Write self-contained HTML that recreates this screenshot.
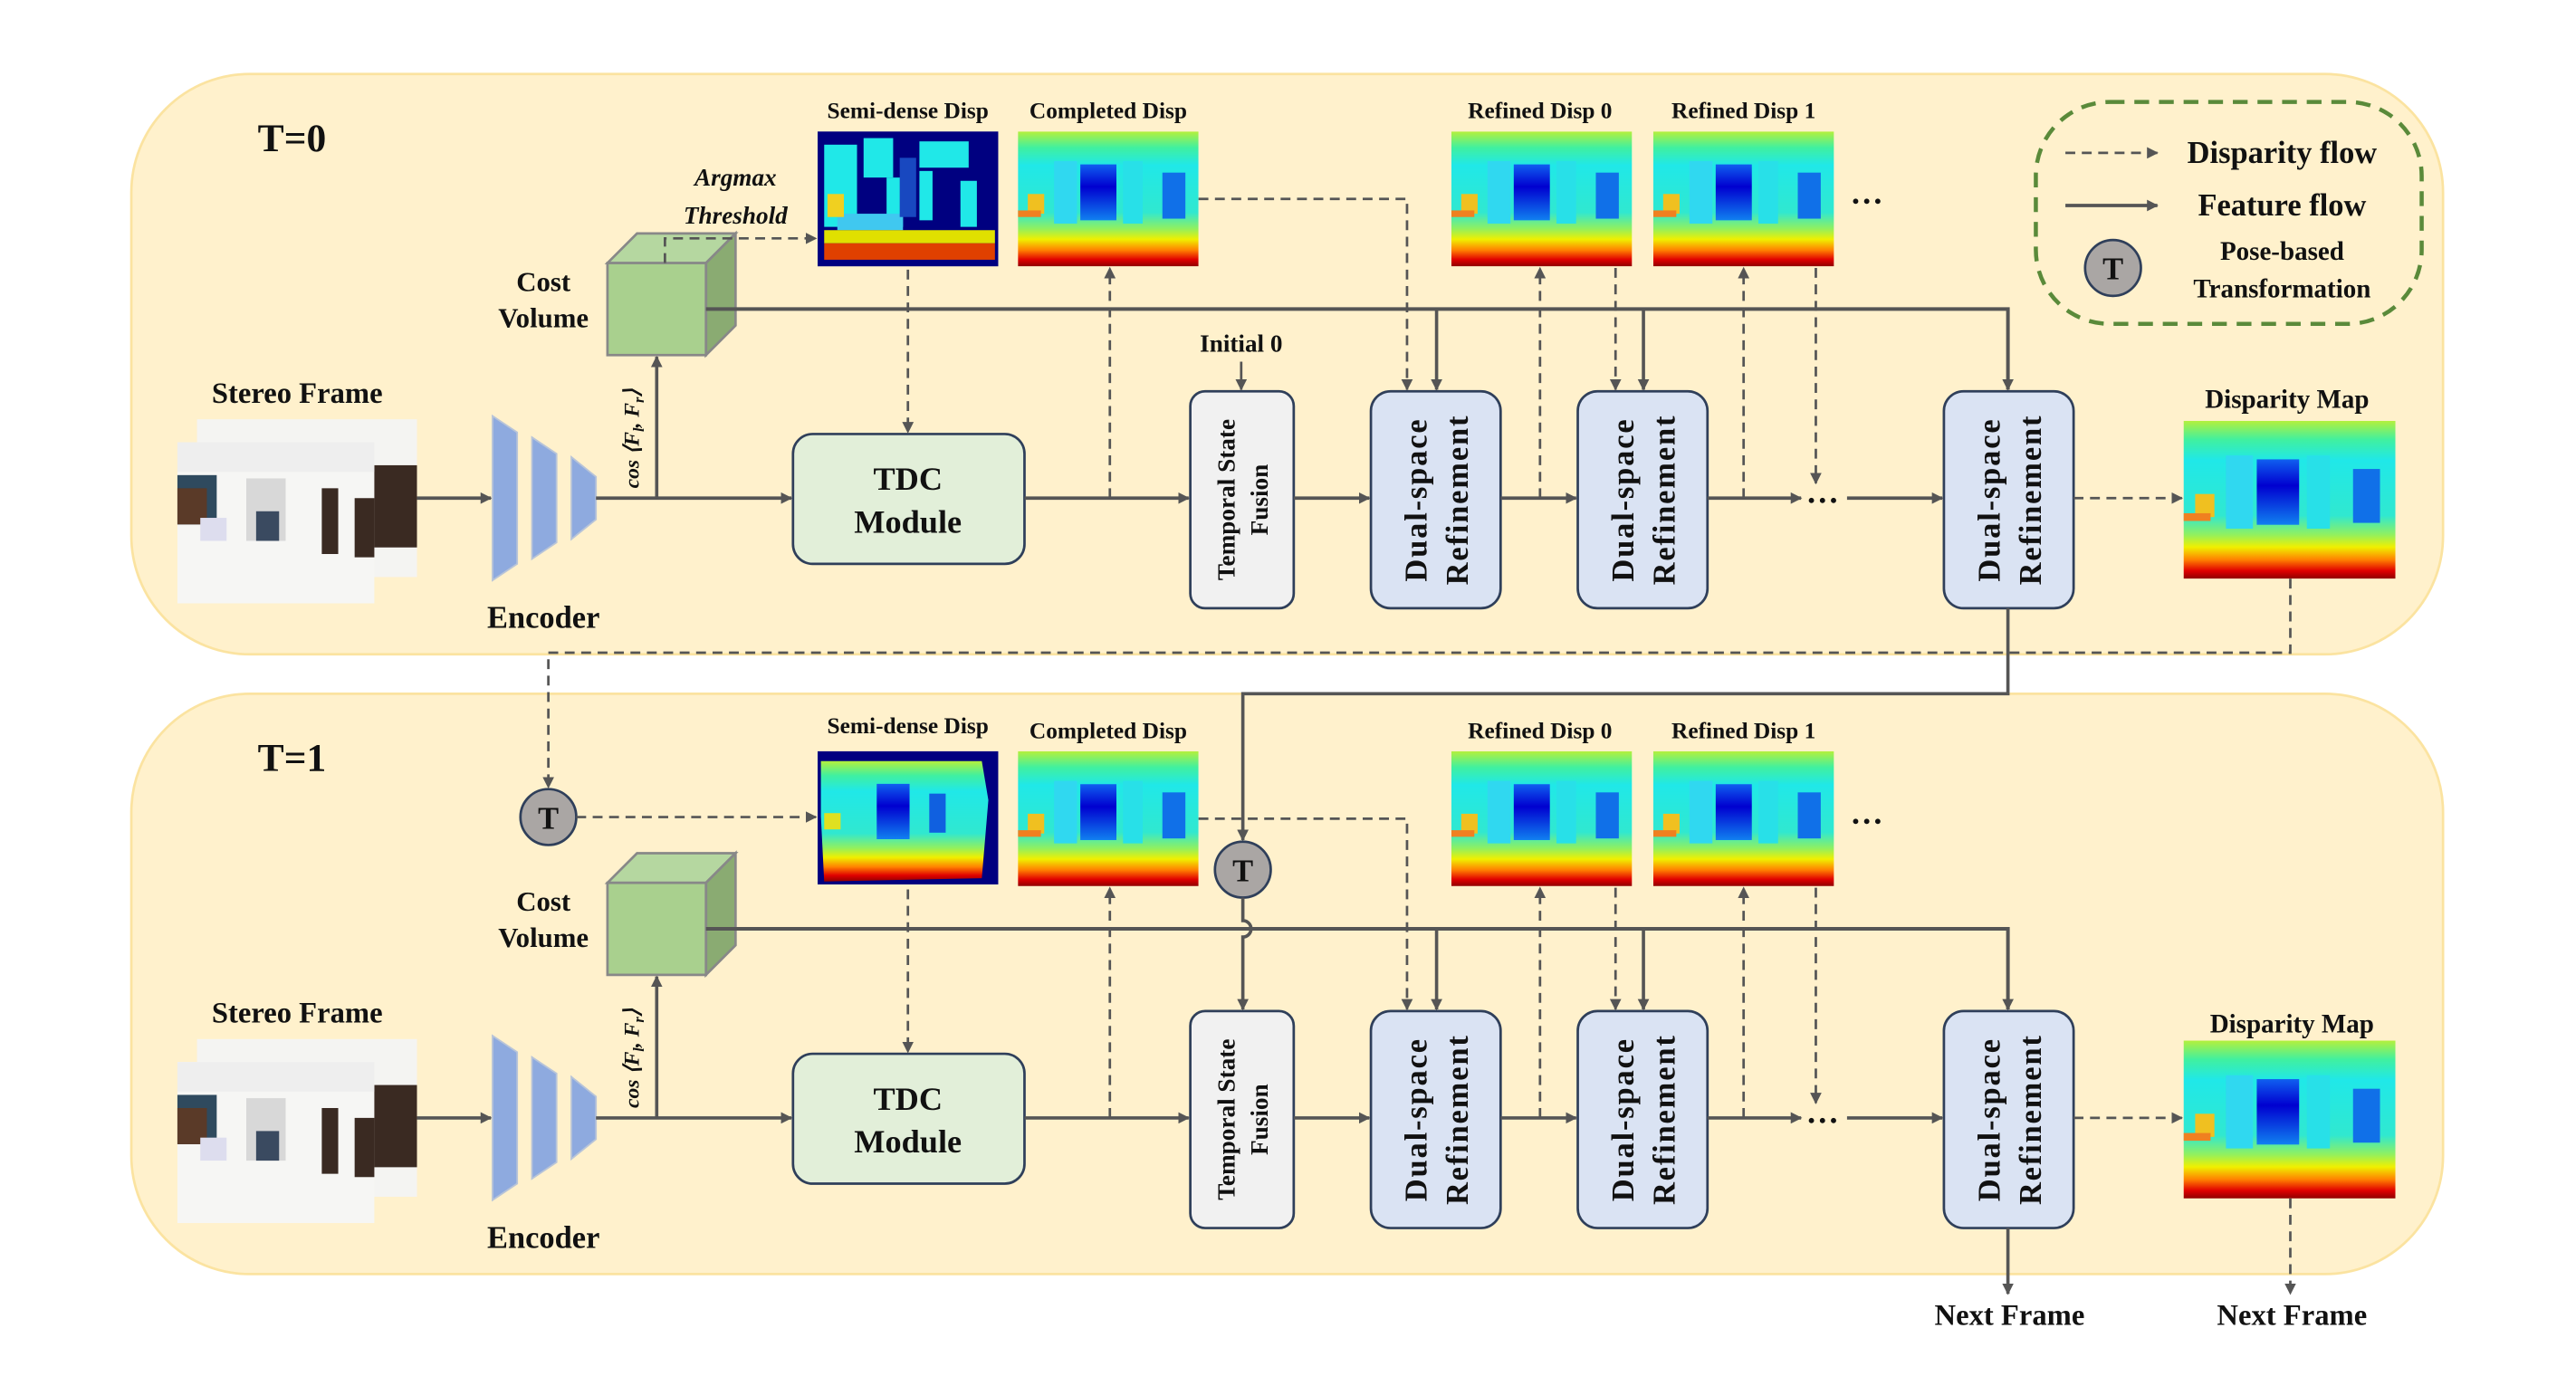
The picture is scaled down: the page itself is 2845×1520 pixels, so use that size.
<!DOCTYPE html>
<html><head><meta charset="utf-8"><style>
html,body{margin:0;padding:0;background:#fff;}
svg{display:block;}
text{font-family:"Liberation Serif",serif;font-weight:bold;fill:#111;}
</style></head><body>
<svg width="2845" height="1520" viewBox="0 0 1569 837" preserveAspectRatio="none" xmlns="http://www.w3.org/2000/svg">
<defs>
<marker id="ah" viewBox="0 0 10 10" refX="9" refY="5" markerWidth="7" markerHeight="7" orient="auto" markerUnits="userSpaceOnUse"><path d="M0,0 L10,5 L0,10 z" fill="#555"/></marker>
<linearGradient id="jet" x1="0" y1="0" x2="0" y2="1">
<stop offset="0" stop-color="#b4f03c"/><stop offset="0.12" stop-color="#40f0a0"/><stop offset="0.25" stop-color="#20e8e8"/><stop offset="0.6" stop-color="#30e8d0"/><stop offset="0.72" stop-color="#90f060"/><stop offset="0.8" stop-color="#f0f000"/><stop offset="0.88" stop-color="#ff8000"/><stop offset="0.95" stop-color="#e00000"/><stop offset="1" stop-color="#900000"/></linearGradient>
<linearGradient id="blu" x1="0" y1="0" x2="0" y2="1"><stop offset="0" stop-color="#1060f0"/><stop offset="0.4" stop-color="#0000d0"/><stop offset="1" stop-color="#1080f0"/></linearGradient>
<symbol id="disp" viewBox="0 0 110 82" preserveAspectRatio="none">
<rect width="110" height="82" fill="url(#jet)"/>
<rect x="22" y="18" width="14" height="38" fill="#30d8f0"/>
<rect x="38" y="20" width="22" height="34" fill="url(#blu)"/>
<rect x="64" y="18" width="12" height="38" fill="#28e0e8"/>
<rect x="88" y="25" width="14" height="28" fill="#1070e8"/>
<rect x="6" y="38" width="10" height="12" fill="#f0c020"/>
<rect x="0" y="48" width="14" height="4" fill="#f08020"/>
</symbol>
<symbol id="stereo" viewBox="0 0 146 112" preserveAspectRatio="none">
<rect x="12" y="0" width="134" height="96" fill="#f4f4f2"/>
<rect x="118" y="28" width="28" height="50" fill="#3a2a22"/>
<rect x="0" y="14" width="120" height="98" fill="#f6f6f4"/>
<rect x="0" y="14" width="120" height="18" fill="#eeeeee"/>
<rect x="0" y="34" width="24" height="30" fill="#2f4a5e"/>
<rect x="0" y="42" width="18" height="22" fill="#5a3a28"/>
<rect x="42" y="36" width="24" height="38" fill="#d8d8d8"/>
<rect x="48" y="56" width="14" height="18" fill="#3a4a60"/>
<rect x="88" y="42" width="10" height="40" fill="#3a2a22"/>
<rect x="108" y="48" width="12" height="36" fill="#3a2a22"/>
<rect x="14" y="60" width="16" height="14" fill="#dde"/>
</symbol>
</defs>

<rect x="80" y="45" width="1408" height="353" rx="72" fill="#fff1cc" stroke="#fbe3a0" stroke-width="1.5"/>
<rect x="80" y="422" width="1408" height="353" rx="72" fill="#fff1cc" stroke="#fbe3a0" stroke-width="1.5"/>

<text x="157" y="92" font-size="24">T=0</text>
<text x="157" y="469" font-size="24">T=1</text>

<g id="shared">
<text x="181" y="245" font-size="18" text-anchor="middle">Stereo Frame</text>
<use href="#stereo" x="108" y="255" width="146" height="112"/>
<line x1="254" y1="303" x2="299" y2="303" stroke="#555" stroke-width="2" marker-end="url(#ah)"/>
<polygon points="300,253 315,263 315,343 300,353" fill="#8eaadf" stroke="#b8c4d8" stroke-width="1"/>
<polygon points="324,266 339,276 339,330 324,340" fill="#8eaadf" stroke="#b8c4d8" stroke-width="1"/>
<polygon points="348,278 363,290 363,316 348,328" fill="#8eaadf" stroke="#b8c4d8" stroke-width="1"/>
<text x="331" y="382" font-size="19" text-anchor="middle">Encoder</text>
<line x1="363" y1="303" x2="482" y2="303" stroke="#555" stroke-width="2" marker-end="url(#ah)"/>
<line x1="400" y1="303" x2="400" y2="217" stroke="#555" stroke-width="2" marker-end="url(#ah)"/>
<text transform="translate(389,297) rotate(-90)" font-size="13" font-style="italic">cos ⟨F<tspan font-size="9" dy="3">l</tspan><tspan dy="-3">, F</tspan><tspan font-size="9" dy="3">r</tspan><tspan dy="-3">⟩</tspan></text>
<polygon points="370,160 388,142 448,142 430,160" fill="#b5d7a0" stroke="#888" stroke-width="1.5"/>
<polygon points="430,160 448,142 448,198 430,216" fill="#8aab72" stroke="#888" stroke-width="1.5"/>
<rect x="370" y="160" width="60" height="56" fill="#a9d08e" stroke="#888" stroke-width="1.5"/>
<text x="331" y="177" font-size="17" text-anchor="middle">Cost</text>
<text x="331" y="199" font-size="17" text-anchor="middle">Volume</text>
<polyline points="430,188 1223,188 1223,237" fill="none" stroke="#555" stroke-width="2.2" marker-end="url(#ah)"/>
<line x1="875" y1="188" x2="875" y2="237" stroke="#555" stroke-width="2" marker-end="url(#ah)"/>
<line x1="1001" y1="188" x2="1001" y2="237" stroke="#555" stroke-width="2" marker-end="url(#ah)"/>
<rect x="483" y="264" width="141" height="79" rx="12" fill="#e2efd9" stroke="#2f3f5a" stroke-width="1.5"/>
<text x="553" y="298" font-size="20" text-anchor="middle">TDC</text>
<text x="553" y="324" font-size="20" text-anchor="middle">Module</text>
<line x1="553" y1="164" x2="553" y2="263" stroke="#555" stroke-width="1.5" stroke-dasharray="6,4" marker-end="url(#ah)"/>
<line x1="624" y1="303" x2="724" y2="303" stroke="#555" stroke-width="2" marker-end="url(#ah)"/>
<line x1="676" y1="303" x2="676" y2="163" stroke="#555" stroke-width="1.5" stroke-dasharray="6,4" marker-end="url(#ah)"/>
<text x="675" y="72" font-size="14" text-anchor="middle">Completed Disp</text>
<use href="#disp" x="620" y="80" width="110" height="82"/>
<polyline points="730,121 857,121 857,237" fill="none" stroke="#555" stroke-width="1.5" stroke-dasharray="6,4" marker-end="url(#ah)"/>
<rect x="725" y="238" width="63" height="132" rx="9" fill="#f1f1f1" stroke="#2f3f5a" stroke-width="1.5"/>
<text transform="translate(752,304) rotate(-90)" font-size="15" text-anchor="middle">Temporal State</text>
<text transform="translate(772,304) rotate(-90)" font-size="15" text-anchor="middle">Fusion</text>
<line x1="788" y1="303" x2="834" y2="303" stroke="#555" stroke-width="2" marker-end="url(#ah)"/>
<g id="dual">
<rect x="835" y="238" width="79" height="132" rx="12" fill="#dae3f3" stroke="#2f3f5a" stroke-width="1.5"/>
<text transform="translate(869,304) rotate(-90)" font-size="19" text-anchor="middle" letter-spacing="1">Dual-space</text>
<text transform="translate(894,304) rotate(-90)" font-size="19" text-anchor="middle" letter-spacing="1">Refinement</text>
</g>
<use href="#dual" x="126"/>
<use href="#dual" x="349"/>
<line x1="914" y1="303" x2="960" y2="303" stroke="#555" stroke-width="2" marker-end="url(#ah)"/>
<line x1="1040" y1="303" x2="1097" y2="303" stroke="#555" stroke-width="2" marker-end="url(#ah)"/>
<text x="1110" y="306" font-size="20" text-anchor="middle">…</text>
<line x1="1125" y1="303" x2="1183" y2="303" stroke="#555" stroke-width="2" marker-end="url(#ah)"/>
<text x="938" y="72" font-size="14" text-anchor="middle">Refined Disp 0</text>
<text x="1062" y="72" font-size="14" text-anchor="middle">Refined Disp 1</text>
<use href="#disp" x="884" y="80" width="110" height="82"/>
<use href="#disp" x="1007" y="80" width="110" height="82"/>
<text x="1137" y="124" font-size="20" text-anchor="middle">…</text>
<line x1="938" y1="303" x2="938" y2="163" stroke="#555" stroke-width="1.5" stroke-dasharray="6,4" marker-end="url(#ah)"/>
<line x1="984" y1="163" x2="984" y2="237" stroke="#555" stroke-width="1.5" stroke-dasharray="6,4" marker-end="url(#ah)"/>
<line x1="1062" y1="303" x2="1062" y2="163" stroke="#555" stroke-width="1.5" stroke-dasharray="6,4" marker-end="url(#ah)"/>
<line x1="1106" y1="163" x2="1106" y2="294" stroke="#555" stroke-width="1.5" stroke-dasharray="6,4" marker-end="url(#ah)"/>
<line x1="1263" y1="303" x2="1329" y2="303" stroke="#555" stroke-width="1.5" stroke-dasharray="6,4" marker-end="url(#ah)"/>
<use href="#disp" x="1330" y="256" width="129" height="96"/>
</g>
<use href="#shared" y="377"/>

<text x="1393" y="248" font-size="16" text-anchor="middle">Disparity Map</text>
<text x="1396" y="628" font-size="16" text-anchor="middle">Disparity Map</text>
<text x="756" y="214" font-size="15" text-anchor="middle">Initial 0</text>
<line x1="756" y1="220" x2="756" y2="237" stroke="#555" stroke-width="1.5" marker-end="url(#ah)"/>
<text x="553" y="72" font-size="14" text-anchor="middle">Semi-dense Disp</text>
<rect x="498" y="80" width="110" height="82" fill="#000080"/>
<g fill="#20e8e8">
<rect x="502" y="88" width="20" height="50"/><rect x="526" y="84" width="18" height="24"/><rect x="560" y="86" width="30" height="16"/>
<rect x="540" y="108" width="10" height="30"/><rect x="560" y="104" width="8" height="30"/><rect x="585" y="110" width="10" height="28"/><rect x="510" y="130" width="40" height="10" fill="#40c8f0"/>
</g>
<rect x="548" y="96" width="10" height="36" fill="#1848c0"/>
<rect x="502" y="140" width="104" height="8" fill="#e0e000"/>
<rect x="502" y="148" width="104" height="10" fill="#e04000"/>
<rect x="504" y="118" width="10" height="14" fill="#f0d020"/>
<text x="448" y="113" font-size="15" font-style="italic" text-anchor="middle">Argmax</text>
<text x="448" y="136" font-size="15" font-style="italic" text-anchor="middle">Threshold</text>
<polyline points="405,160 405,145 497,145" fill="none" stroke="#555" stroke-width="1.5" stroke-dasharray="6,4" marker-end="url(#ah)"/>

<text x="553" y="446" font-size="14" text-anchor="middle">Semi-dense Disp</text>
<rect x="498" y="457" width="110" height="81" fill="#000080"/>
<g transform="translate(498,457) scale(1,0.99)">
<polygon points="2,6 100,6 104,30 100,78 4,80 2,40" fill="url(#jet)"/>
<rect x="36" y="20" width="20" height="34" fill="url(#blu)"/>
<rect x="68" y="26" width="10" height="24" fill="#1060e0"/>
<rect x="4" y="38" width="10" height="10" fill="#e0e020"/>
</g>
<circle cx="334" cy="497" r="17" fill="#aaa6a4" stroke="#2f3f5a" stroke-width="1.5"/>
<text x="334" y="504" font-size="19" text-anchor="middle" font-weight="normal">T</text>
<line x1="351" y1="497" x2="497" y2="497" stroke="#555" stroke-width="1.5" stroke-dasharray="6,4" marker-end="url(#ah)"/>

<polyline points="1395,352 1395,397 334,397 334,479" fill="none" stroke="#555" stroke-width="1.5" stroke-dasharray="6,4" marker-end="url(#ah)"/>
<polyline points="1223,370 1223,422 757,422 757,511" fill="none" stroke="#555" stroke-width="2" marker-end="url(#ah)"/>
<circle cx="757" cy="529" r="17" fill="#aaa6a4" stroke="#2f3f5a" stroke-width="1.5"/>
<text x="757" y="536" font-size="19" text-anchor="middle" font-weight="normal">T</text>
<path d="M757,546 L757,560 A5,5 0 0 1 757,570 L757,614" fill="none" stroke="#555" stroke-width="2" marker-end="url(#ah)"/>

<line x1="1223" y1="747" x2="1223" y2="787" stroke="#555" stroke-width="2" marker-end="url(#ah)"/>
<line x1="1395" y1="729" x2="1395" y2="787" stroke="#555" stroke-width="1.5" stroke-dasharray="6,4" marker-end="url(#ah)"/>
<text x="1224" y="806" font-size="18" text-anchor="middle">Next Frame</text>
<text x="1396" y="806" font-size="18" text-anchor="middle">Next Frame</text>

<rect x="1240" y="62" width="235" height="135" rx="45" fill="none" stroke="#5a8a3a" stroke-width="2.5" stroke-dasharray="9,6"/>
<line x1="1258" y1="93" x2="1314" y2="93" stroke="#555" stroke-width="1.5" stroke-dasharray="6,4" marker-end="url(#ah)"/>
<text x="1390" y="99" font-size="19" text-anchor="middle">Disparity flow</text>
<line x1="1258" y1="125" x2="1314" y2="125" stroke="#555" stroke-width="2" marker-end="url(#ah)"/>
<text x="1390" y="131" font-size="19" text-anchor="middle">Feature flow</text>
<circle cx="1287" cy="163" r="17" fill="#aaa6a4" stroke="#2f3f5a" stroke-width="1.5"/>
<text x="1287" y="170" font-size="19" text-anchor="middle" font-weight="normal">T</text>
<text x="1390" y="158" font-size="16" text-anchor="middle">Pose-based</text>
<text x="1390" y="181" font-size="16" text-anchor="middle">Transformation</text>
</svg>
</body></html>
